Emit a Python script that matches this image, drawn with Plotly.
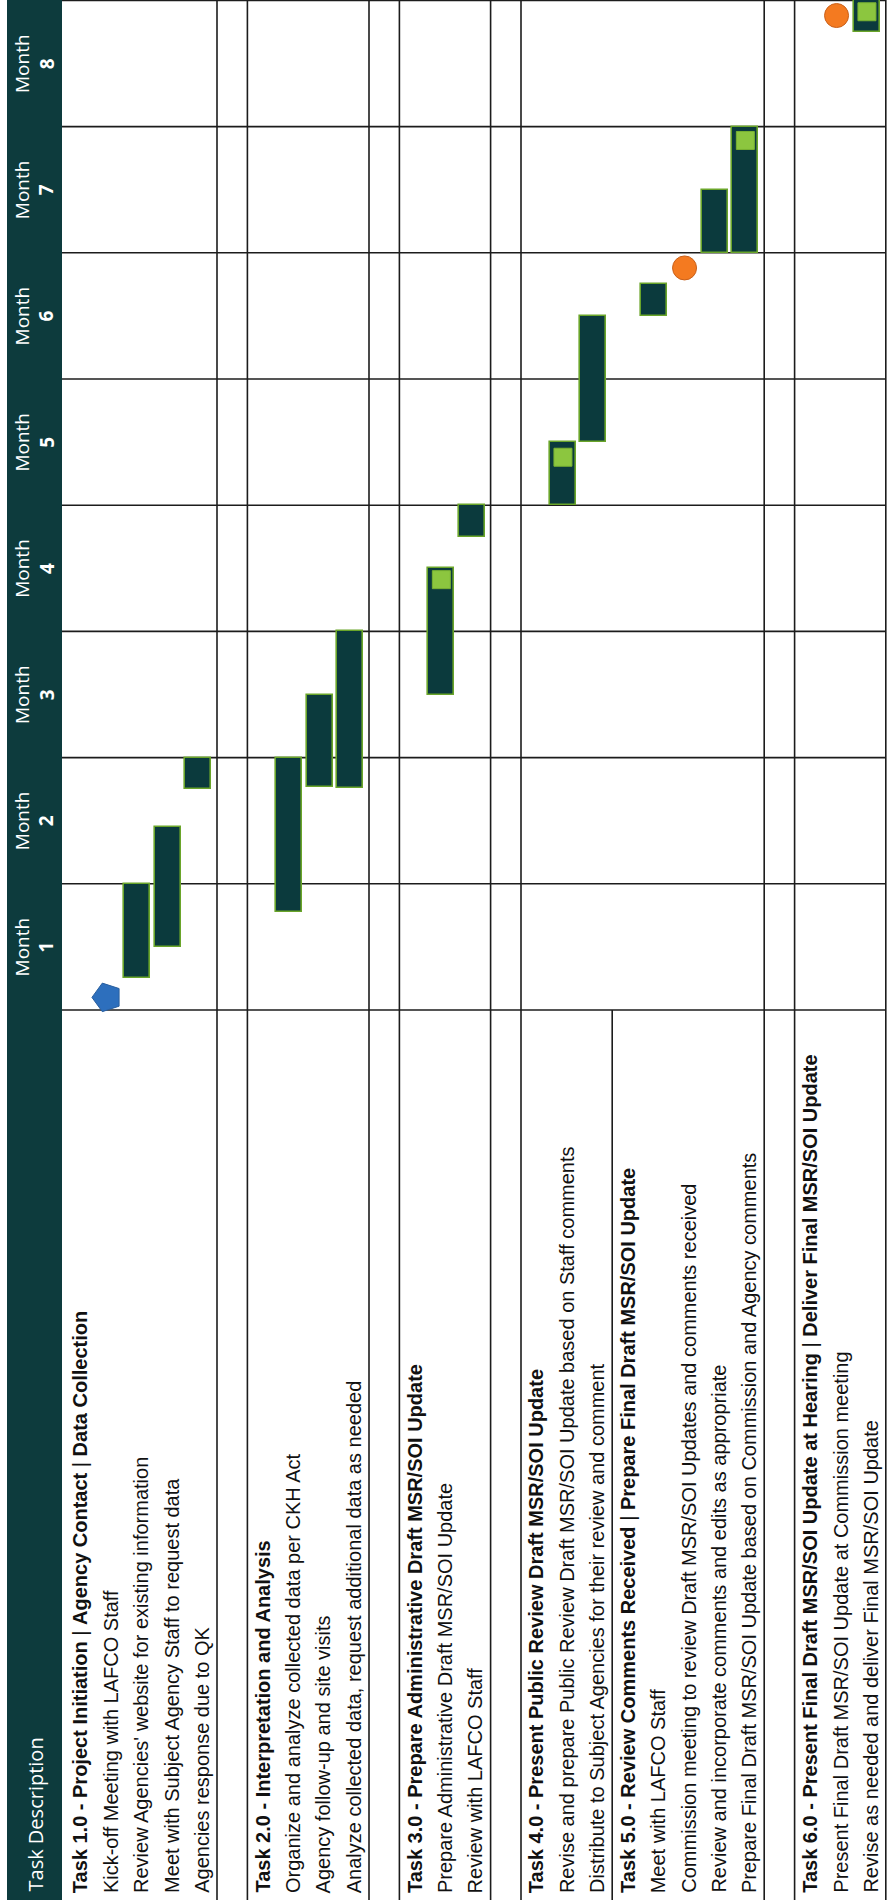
import plotly.graph_objects as go

# ---------------- data ----------------
month_numbers = ["1", "2", "3", "4", "5", "6", "7", "8"]

row_labels = [
    "<b>Task 1.0 - Project Initiation</b> | <b>Agency Contact</b> | <b>Data Collection</b>",
    "Kick-off Meeting with LAFCO Staff",
    "Review Agencies' website for existing information",
    "Meet with Subject Agency Staff to request data",
    "Agencies response due to QK",
    "",
    "<b>Task 2.0 - Interpretation and Analysis</b>",
    "Organize and analyze collected data per CKH Act",
    "Agency follow-up and site visits",
    "Analyze collected data, request additional data as needed",
    "",
    "<b>Task 3.0 - Prepare Administrative Draft MSR/SOI Update</b>",
    "Prepare Administrative Draft MSR/SOI Update",
    "Review with LAFCO Staff",
    "",
    "<b>Task 4.0 - Present Public Review Draft MSR/SOI Update</b>",
    "Revise and prepare Public Review Draft MSR/SOI Update based on Staff comments",
    "Distribute to Subject Agencies for their review and comment",
    "<b>Task 5.0 - Review Comments Received</b> | <b>Prepare Final Draft MSR/SOI Update</b>",
    "Meet with LAFCO Staff",
    "Commission meeting to review Draft MSR/SOI Updates and comments received",
    "Review and incorporate comments and edits as appropriate",
    "Prepare Final Draft MSR/SOI Update based on Commission and Agency comments",
    "",
    "<b>Task 6.0 - Present Final Draft MSR/SOI Update at Hearing</b> | <b>Deliver Final MSR/SOI Update</b>",
    "Present Final Draft MSR/SOI Update at Commission meeting",
    "Revise as needed and deliver Final MSR/SOI Update",
]

# Gantt bars: row index, start month, end month (months counted from project start)
bar_rows = [2, 3, 4, 7, 8, 9, 12, 13, 16, 17, 19, 21, 22, 26]
bar_start = [0.25, 0.5, 1.75, 0.78, 1.77, 1.76, 2.5, 3.75, 4.0, 4.5, 5.5, 6.0, 6.0, 7.75]
bar_end = [1.0, 1.45, 2.0, 2.0, 2.5, 3.0, 3.5, 4.0, 4.5, 5.5, 5.75, 6.5, 7.0, 8.0]

# meetings (orange) and kick-off (blue pentagon)
kickoff_row = [1]
kickoff_t = [0.1]
meeting_rows = [20, 25]
meeting_t = [5.88, 7.88]

# deliverables (light green squares)
deliv_rows = [12, 16, 22, 26]
deliv_t = [3.41, 4.38, 6.89, 7.91]

# ---------------- layout constants ----------------
W, H = 887, 1900
X0, ROW_W = 65.0, 30.4      # pixel of first row edge, row width (px)
Y0, MON_H = 1010.0, 126.2   # pixel of month-1 start, month height (px)
HEADER_X0, HEADER_X1 = 7, 62

def sx(px):
    return (px - X0) / ROW_W

def ty(py):
    return (Y0 - py) / MON_H

TEAL = "#0d3b3d"
BAR = "#0b3a3d"
BAR_EDGE = "#6aa52a"
LIME = "#8cc63f"
ORANGE = "#f47a20"
BLUE = "#2d6fbd"
LINE = "#1c1c1c"

MARK_SHIFT = -0.12
n_rows = len(row_labels)

fig = go.Figure()

# bars
fig.add_trace(go.Bar(
    x=[r + 0.5 + MARK_SHIFT for r in bar_rows],
    y=[e - s for s, e in zip(bar_start, bar_end)],
    base=bar_start,
    width=0.86,
    marker=dict(color=BAR, line=dict(color=BAR_EDGE, width=1.6)),
    hoverinfo="skip",
    showlegend=False,
))

# deliverables
fig.add_trace(go.Scatter(
    x=[r + 0.5 + MARK_SHIFT for r in deliv_rows], y=deliv_t, mode="markers",
    marker=dict(symbol="square", size=18, color=LIME, line=dict(color="#79b232", width=1)),
    hoverinfo="skip", showlegend=False,
))

# meetings
fig.add_trace(go.Scatter(
    x=[r + 0.5 + MARK_SHIFT for r in meeting_rows], y=meeting_t, mode="markers",
    marker=dict(symbol="circle", size=24, color=ORANGE, line=dict(color="#c9601a", width=1)),
    hoverinfo="skip", showlegend=False,
))

# kick-off
fig.add_trace(go.Scatter(
    x=[r + 0.5 + MARK_SHIFT for r in kickoff_row], y=kickoff_t, mode="markers",
    marker=dict(symbol="pentagon", size=30, angle=-90, color=BLUE, line=dict(color="#2a5f9e", width=1)),
    hoverinfo="skip", showlegend=False,
))

shapes = []
# header band
shapes.append(dict(type="rect", xref="x", yref="paper", x0=sx(HEADER_X0), x1=sx(HEADER_X1),
                   y0=0, y1=1, fillcolor=TEAL, line=dict(width=0), layer="below"))
# month boundaries
for k in range(0, len(month_numbers) + 1):
    shapes.append(dict(type="line", xref="x", yref="y", x0=sx(HEADER_X1), x1=n_rows,
                       y0=k, y1=k, line=dict(color=LINE, width=1.6), layer="below"))
# row separators spanning whole table
for b in [5, 6, 10, 11, 14, 15, 23, 24, n_rows]:
    shapes.append(dict(type="line", xref="x", yref="paper", x0=b, x1=b, y0=0, y1=1,
                       line=dict(color=LINE, width=1.6), layer="below"))
# separator only in description column
shapes.append(dict(type="line", xref="x", yref="y", x0=18, x1=18, y0=0, y1=ty(H + 5),
                   line=dict(color=LINE, width=1.6), layer="below"))

annotations = []
hdr_c = sx((HEADER_X0 + HEADER_X1) / 2)
for i, m in enumerate(month_numbers):
    annotations.append(dict(
        x=hdr_c, y=i + 0.5, xref="x", yref="y", text=f"Month<br><b>{m}</b>",
        textangle=-90, showarrow=False, align="center",
        font=dict(family="Open Sans, Liberation Sans, sans-serif", size=19, color="white"),
        xanchor="center", yanchor="middle"))
annotations.append(dict(
    x=hdr_c, y=ty(H - 6), xref="x", yref="y", text="Task Description",
    textangle=-90, showarrow=False,
    font=dict(family="Open Sans, Liberation Sans, sans-serif", size=20, color="white"),
    xanchor="center", yanchor="bottom"))

for i, lab in enumerate(row_labels):
    if not lab:
        continue
    bold = lab.startswith("<b>")
    annotations.append(dict(
        x=i + 0.5, y=ty(H - 5), xref="x", yref="y", text=lab,
        textangle=-90, showarrow=False,
        font=dict(family=("Liberation Sans Narrow, Arial Narrow, Liberation Sans, Arial" if bold
                          else "Liberation Sans, Arial, sans-serif"),
                  size=20, color="#111111"),
        xanchor="center", yanchor="bottom"))

fig.update_layout(
    width=W, height=H,
    margin=dict(l=0, r=0, t=0, b=0),
    paper_bgcolor="white", plot_bgcolor="white",
    shapes=shapes, annotations=annotations,
    bargap=0,
    xaxis=dict(range=[sx(0), sx(W)], showgrid=False, zeroline=False, showticklabels=False,
               fixedrange=True),
    yaxis=dict(range=[ty(H), ty(0)], showgrid=False, zeroline=False, showticklabels=False,
               fixedrange=True),
)

fig.write_html("out.html", config={"displayModeBar": False},
               post_script="document.body.style.margin='0';")
